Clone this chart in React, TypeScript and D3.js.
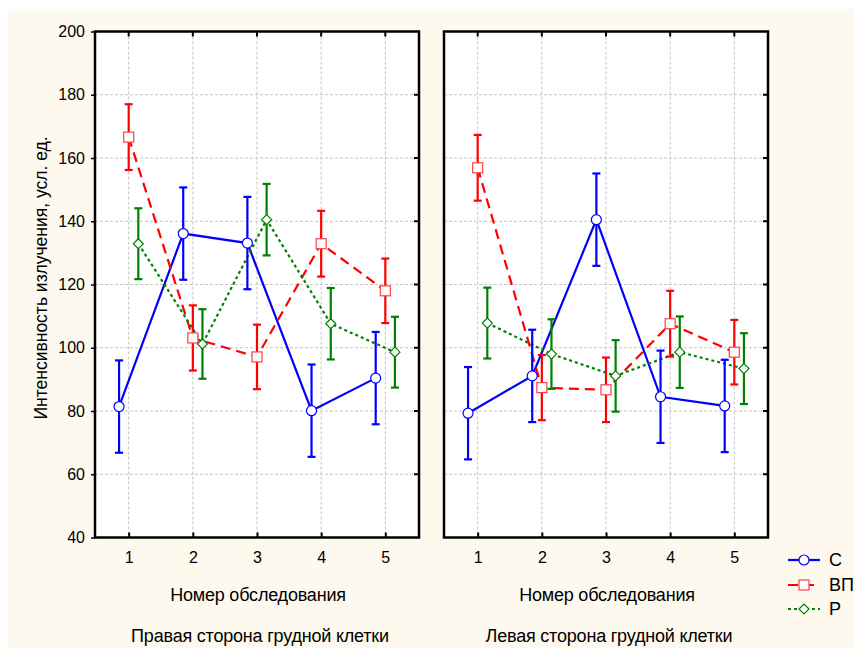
import * as d3 from "d3";
import React, { useEffect, useRef } from "react";

const exams = [1, 2, 3, 4, 5];
const yTicks = [40, 60, 80, 100, 120, 140, 160, 180, 200];
const seriesNames = ["С", "ВП", "Р"];

// Правая сторона
const rightC = [81.4, 136.1, 133.1, 80.1, 90.4];
const rightVP = [166.6, 103.1, 97.1, 132.9, 118.0];
const rightR = [132.9, 101.2, 140.5, 107.6, 98.6];

// Левая сторона
const leftC = [79.3, 91.1, 140.5, 84.5, 81.6];
const leftVP = [156.9, 87.4, 86.7, 107.6, 98.6];
const leftR = [107.8, 98.0, 91.1, 98.6, 93.4];

// half-width of error bars
const errC = [14.6, 14.6, 14.6, 14.6, 14.6];
const errVP = [10.4, 10.3, 10.2, 10.4, 10.2];
const errR = [11.2, 11.0, 11.3, 11.3, 11.2];

const FONT = "'Liberation Sans', Arial, sans-serif";

const styles = [
  { color: "#0000ff", dash: null, offset: -0.15, marker: "circle", mstroke: "#0000ff" },
  { color: "#ff0000", dash: "10,6", offset: 0, marker: "square", mstroke: "#ff4040" },
  { color: "#008000", dash: "3,3", offset: 0.15, marker: "diamond", mstroke: "#008000" },
];

const drawMarker = (g, kind, cx, cy, stroke) => {
  if (kind === "circle") {
    g.append("circle").attr("cx", cx).attr("cy", cy).attr("r", 5)
      .attr("fill", "white").attr("stroke", stroke).attr("stroke-width", 1.2);
  } else if (kind === "square") {
    g.append("rect").attr("x", cx - 5).attr("y", cy - 5).attr("width", 10).attr("height", 10)
      .attr("fill", "white").attr("stroke", stroke).attr("stroke-width", 1.2);
  } else {
    g.append("path").attr("d", `M${cx},${cy - 5}L${cx + 5},${cy}L${cx},${cy + 5}L${cx - 5},${cy}Z`)
      .attr("fill", "white").attr("stroke", stroke).attr("stroke-width", 1.2);
  }
};

const App = () => {
  const svgRef = useRef(null);

  useEffect(() => {
    const W = 855, H = 648;
    const svg = d3.select(svgRef.current);
    svg.selectAll("*").remove();

    svg.append("rect").attr("width", W).attr("height", H).attr("fill", "white");
    svg.append("rect").attr("x", 8).attr("y", 9).attr("width", W - 8).attr("height", H - 9).attr("fill", "#fdf9ee");

    const top = 31.5, bottom = 537.5;
    const y = d3.scaleLinear().domain([40, 200]).range([bottom, top]);

    const panels = [
      { x0: 95, x1: 419, title: "Правая сторона грудной клетки", data: [rightC, rightVP, rightR], leftAxis: true },
      { x0: 444, x1: 768, title: "Левая сторона грудной клетки", data: [leftC, leftVP, leftR], leftAxis: false },
    ];
    const errs = [errC, errVP, errR];

    panels.forEach(p => {
      const x = d3.scaleLinear().domain([0.475, 5.525]).range([p.x0, p.x1]);
      const g = svg.append("g");

      g.append("rect").attr("x", p.x0).attr("y", top).attr("width", p.x1 - p.x0).attr("height", bottom - top)
        .attr("fill", "white");

      // grid
      g.selectAll(".hgrid").data(yTicks.slice(1, -1)).enter().append("line")
        .attr("x1", p.x0).attr("x2", p.x1).attr("y1", d => y(d)).attr("y2", d => y(d))
        .attr("stroke", "#c4c4c4").attr("stroke-dasharray", "3,2");
      g.selectAll(".vgrid").data(exams).enter().append("line")
        .attr("x1", d => x(d)).attr("x2", d => x(d)).attr("y1", top).attr("y2", bottom)
        .attr("stroke", "#c4c4c4").attr("stroke-dasharray", "3,2");

      // lines
      p.data.forEach((vals, si) => {
        const st = styles[si];
        const line = d3.line().x((d, i) => x(exams[i] + st.offset)).y(d => y(d));
        g.append("path").datum(vals).attr("d", line).attr("fill", "none")
          .attr("stroke", st.color).attr("stroke-width", 2.2)
          .attr("stroke-dasharray", st.dash);
      });

      // error bars
      p.data.forEach((vals, si) => {
        const st = styles[si];
        vals.forEach((v, i) => {
          const cx = x(exams[i] + st.offset);
          const e = errs[si][i];
          const eb = g.append("g").attr("stroke", st.color).attr("stroke-width", 2.2);
          eb.append("line").attr("x1", cx).attr("x2", cx).attr("y1", y(v + e)).attr("y2", y(v - e));
          eb.append("line").attr("x1", cx - 4).attr("x2", cx + 4).attr("y1", y(v + e)).attr("y2", y(v + e));
          eb.append("line").attr("x1", cx - 4).attr("x2", cx + 4).attr("y1", y(v - e)).attr("y2", y(v - e));
        });
      });

      // markers
      p.data.forEach((vals, si) => {
        const st = styles[si];
        vals.forEach((v, i) => drawMarker(g, st.marker, x(exams[i] + st.offset), y(v), st.mstroke));
      });

      // inward ticks top / right
      const tk = g.append("g").attr("stroke", "black").attr("stroke-width", 2);
      exams.forEach(d => {
        tk.append("line").attr("x1", x(d)).attr("x2", x(d)).attr("y1", top).attr("y2", top + 5);
      });
      yTicks.slice(1, -1).forEach(d => {
        tk.append("line").attr("x1", p.x1 - 5).attr("x2", p.x1).attr("y1", y(d)).attr("y2", y(d));
      });

      // bottom axis
      const xAxis = g.append("g").attr("transform", `translate(0,${bottom})`)
        .call(d3.axisBottom(x).tickValues(exams).tickSize(-5).tickPadding(14).tickFormat(d3.format("d")));
      xAxis.select(".domain").remove();
      xAxis.selectAll("line").attr("stroke", "black").attr("stroke-width", 2);
      xAxis.selectAll("text").attr("fill", "#000").style("font-family", FONT).style("font-size", "16px");

      if (p.leftAxis) {
        const yAxis = g.append("g").attr("transform", `translate(${p.x0},0)`)
          .call(d3.axisLeft(y).tickValues(yTicks).tickSize(4).tickPadding(6));
        yAxis.select(".domain").remove();
        yAxis.selectAll("line").attr("stroke", "black").attr("stroke-width", 1.5);
        yAxis.selectAll("text").attr("fill", "#000").style("font-family", FONT).style("font-size", "16px");
      }

      // frame
      g.append("rect").attr("x", p.x0).attr("y", top).attr("width", p.x1 - p.x0).attr("height", bottom - top)
        .attr("fill", "none").attr("stroke", "black").attr("stroke-width", 2.5);

      const cx = (p.x0 + p.x1) / 2;
      g.append("text").attr("x", cx + 1).attr("y", 601).attr("text-anchor", "middle")
        .style("font-family", FONT).style("font-size", "18px").style("letter-spacing", "-0.2px")
        .text("Номер обследования");
      g.append("text").attr("x", cx + 3).attr("y", 642).attr("text-anchor", "middle")
        .style("font-family", FONT).style("font-size", "18px").style("letter-spacing", "-0.2px")
        .text(p.title);
    });

    // y title
    svg.append("text").attr("transform", "translate(47,278) rotate(-90)").attr("text-anchor", "middle")
      .style("font-family", FONT).style("font-size", "17.5px")
      .text("Интенсивность излучения, усл. ед.");

    // legend
    const legendY = [560, 585, 609];
    seriesNames.forEach((name, i) => {
      const st = styles[i];
      const lg = svg.append("g");
      lg.append("line").attr("x1", 788).attr("x2", 820).attr("y1", legendY[i]).attr("y2", legendY[i])
        .attr("stroke", st.color).attr("stroke-width", 2.2).attr("stroke-dasharray", st.dash);
      drawMarker(lg, st.marker, 804, legendY[i], st.mstroke);
      lg.append("text").attr("x", 829).attr("y", legendY[i]).attr("dy", "0.36em")
        .style("font-family", FONT).style("font-size", "18px").text(name);
    });
  }, []);

  return (
    <svg ref={svgRef} width={855} height={648}
      style={{ position: "absolute", left: 0, top: 0, display: "block" }} />
  );
};

export default App;
